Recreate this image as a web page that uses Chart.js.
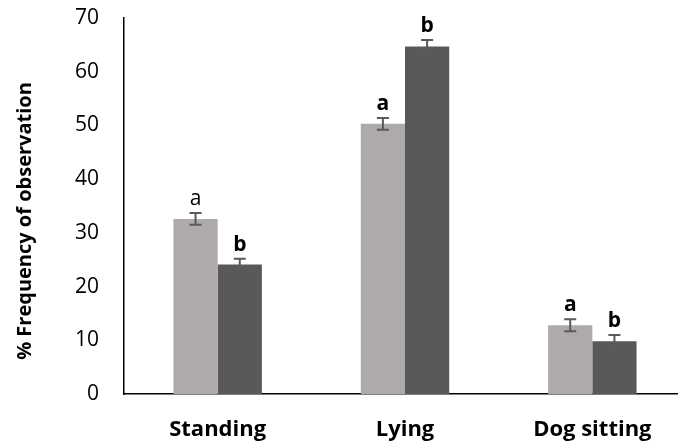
<!DOCTYPE html>
<html><head><meta charset="utf-8">
<script src="https://cdn.jsdelivr.net/npm/chart.js@4.4.1/dist/chart.umd.min.js"></script>
<style>
html,body{margin:0;padding:0;background:#fff;overflow:hidden;}
#wrap{width:686px;height:445px;position:relative;}
</style></head><body>
<div id="wrap"><canvas id="c"></canvas></div>
<script>
const categories = ['Standing', 'Lying', 'Dog sitting'];
const seriesA = [32.6, 50.3, 12.8];
const seriesB = [24.1, 64.7, 9.8];
const errorsA = [1.1, 1.1, 1.1];
const errorsB = [1.1, 1.2, 1.2];
const lettersA = ['a', 'a', 'a'];
const lettersB = ['b', 'b', 'b'];
const yTicks = [0, 10, 20, 30, 40, 50, 60, 70];
const yTitle = '% Frequency of observation';

const FONT = '"Open Sans", Lato, sans-serif';
const letterBold = [[false, true, true], [true, true, true]];

const errorPlugin = {
  id: 'errs',
  afterDatasetsDraw(chart) {
    const ctx = chart.ctx;
    const y = chart.scales.y;
    const errs = [errorsA, errorsB];
    const lets = [lettersA, lettersB];
    chart.data.datasets.forEach((ds, di) => {
      const meta = chart.getDatasetMeta(di);
      meta.data.forEach((bar, i) => {
        const v = ds.data[i], e = errs[di][i];
        const x = bar.x;
        const yt = y.getPixelForValue(v + e), yb = y.getPixelForValue(v - e);
        ctx.save();
        ctx.strokeStyle = '#5a5a5a';
        ctx.lineWidth = 2;
        ctx.beginPath();
        ctx.moveTo(x, yt); ctx.lineTo(x, yb);
        ctx.moveTo(x - 6, yt); ctx.lineTo(x + 6, yt);
        ctx.moveTo(x - 6, yb); ctx.lineTo(x + 6, yb);
        ctx.stroke();
        ctx.fillStyle = '#000';
        ctx.font = (letterBold[di][i] ? 'bold ' : '') + '21px ' + FONT;
        ctx.textAlign = 'center';
        ctx.textBaseline = 'alphabetic';
        ctx.fillText(lets[di][i], x, yt - 8);
        ctx.restore();
      });
    });
    // y-axis title
    ctx.save();
    ctx.translate(31, 221);
    ctx.rotate(-Math.PI / 2);
    ctx.fillStyle = '#000';
    ctx.font = 'bold 20px ' + FONT;
    ctx.textAlign = 'center';
    ctx.textBaseline = 'alphabetic';
    ctx.fillText(yTitle, 0, 0);
    ctx.restore();
  }
};

new Chart(document.getElementById('c'), {
  type: 'bar',
  data: {
    labels: categories,
    datasets: [
      { data: seriesA, backgroundColor: '#aeaaaa', categoryPercentage: 0.472, barPercentage: 1.0 },
      { data: seriesB, backgroundColor: '#595959', categoryPercentage: 0.472, barPercentage: 1.0 }
    ]
  },
  options: {
    responsive: true,
    maintainAspectRatio: false,
    animation: false,
    layout: { padding: { left: 0, top: 18, right: 0, bottom: 0 } },
    plugins: { legend: { display: false }, tooltip: { enabled: false } },
    scales: {
      x: {
        afterFit: (ax) => { ax.height = 51; ax.paddingLeft = 0; ax.paddingRight = 0; },
        grid: { display: false, drawTicks: false },
        border: { display: true, color: '#000', width: 1.5 },
        ticks: { color: '#000', font: { family: FONT, size: 22, weight: 'bold' }, padding: 23 }
      },
      y: {
        min: 0, max: 70,
        afterFit: (ax) => { ax.width = 124; ax.paddingTop = 0; ax.paddingBottom = 0; },
        afterBuildTicks: (ax) => { ax.ticks = yTicks.map(v => ({ value: v })); },
        grid: { display: false, drawTicks: false },
        border: { display: true, color: '#000', width: 1.5 },
        ticks: { color: '#000', font: { family: FONT, size: 21 }, padding: 25 },
        title: { display: false }
      }
    }
  },
  plugins: [errorPlugin]
});
</script>
</body></html>
